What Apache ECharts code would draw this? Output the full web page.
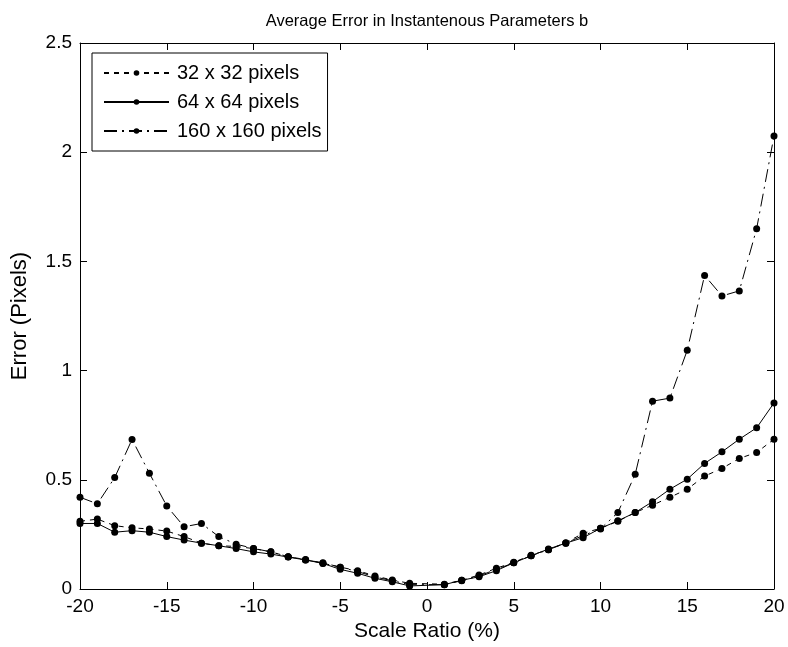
<!DOCTYPE html>
<html>
<head>
<meta charset="utf-8">
<script src="https://cdn.jsdelivr.net/npm/echarts@6/dist/echarts.min.js"></script>
<style>html,body{margin:0;padding:0;background:#fff;}#c{width:788px;height:647px;}</style>
</head>
<body>
<div id="c"></div>
<script>
const xValues = [-20,-19,-18,-17,-16,-15,-14,-13,-12,-11,-10,-9,-8,-7,-6,-5,-4,-3,-2,-1,1,2,3,4,5,6,7,8,9,10,11,12,13,14,15,16,17,18,19,20];
const err32 = [0.31,0.32,0.29,0.28,0.275,0.265,0.24,0.21,0.198,0.195,0.185,0.17,0.148,0.135,0.118,0.10,0.084,0.06,0.041,0.026,0.022,0.04,0.064,0.095,0.122,0.155,0.18,0.212,0.255,0.278,0.31,0.35,0.384,0.42,0.457,0.517,0.552,0.598,0.625,0.686];
const err64 = [0.30,0.30,0.26,0.267,0.26,0.24,0.224,0.21,0.198,0.185,0.17,0.16,0.146,0.133,0.117,0.09,0.072,0.049,0.033,0.014,0.02,0.04,0.056,0.084,0.12,0.152,0.183,0.21,0.235,0.278,0.312,0.35,0.40,0.457,0.503,0.575,0.628,0.686,0.738,0.852];
const err160 = [0.42,0.39,0.51,0.685,0.53,0.38,0.285,0.30,0.24,0.205,0.186,0.17,0.148,0.133,0.12,0.10,0.08,0.055,0.038,0.02,0.02,0.038,0.06,0.09,0.12,0.152,0.18,0.21,0.245,0.275,0.35,0.525,0.86,0.874,1.093,1.436,1.342,1.365,1.65,2.074];
const seriesNames = ['32 x 32 pixels','64 x 64 pixels','160 x 160 pixels'];
const titleText = 'Average Error in Instantenous Parameters b';
const xName = 'Scale Ratio (%)';
const yName = 'Error (Pixels)';

const FONT = 'Liberation Sans, Arial, sans-serif';
const pairs = arr => xValues.map((x,i)=>[x,arr[i]]);
const mk = (name, data, type) => ({
  name, type:'line', data: pairs(data),
  symbol:'circle', symbolSize:7, showSymbol:true,
  itemStyle:{color:'#000'},
  lineStyle:{color:'#000', width:1, type:type},
  emphasis:{disabled:true}, animation:false
});
const axisCommon = () => ({
  axisLine:{onZero:false,lineStyle:{color:'#000',width:1}},
  axisTick:{inside:true,length:7,lineStyle:{color:'#000'}},
  splitLine:{show:false},
});
const chart = echarts.init(document.getElementById('c'));
chart.setOption({
  backgroundColor:'#fff',
  animation:false,
  title:{text:titleText,left:422,textAlign:'center',top:8,
    textStyle:{fontFamily:FONT,fontSize:16.5,fontWeight:'normal',color:'#000'}},
  grid:{left:80,right:14,top:43,bottom:58},
  legend:{
    orient:'vertical', left:92, top:53,
    padding:[10,6,10,11], itemGap:9,
    borderColor:'#000', borderWidth:1, backgroundColor:'#fff',
    itemWidth:65, itemHeight:7,
    textStyle:{fontFamily:FONT,fontSize:20,color:'#000',padding:[0,0,0,3]},
    data:seriesNames
  },
  xAxis:[
    Object.assign({type:'value',min:-20,max:20,interval:5,
      name:xName,nameLocation:'middle',nameGap:30,
      nameTextStyle:{fontFamily:FONT,fontSize:21,color:'#000'},
      axisLabel:{fontFamily:FONT,fontSize:19,color:'#000',margin:8}},axisCommon()),
    Object.assign({type:'value',min:-20,max:20,interval:5,position:'top',
      axisLabel:{show:false}},axisCommon())
  ],
  yAxis:[
    Object.assign({type:'value',min:0,max:2.5,interval:0.5,
      name:yName,nameLocation:'middle',nameGap:49,
      nameTextStyle:{fontFamily:FONT,fontSize:22,color:'#000'},
      axisLabel:{fontFamily:FONT,fontSize:19,color:'#000',margin:8}},axisCommon()),
    Object.assign({type:'value',min:0,max:2.5,interval:0.5,position:'right',
      axisLabel:{show:false}},axisCommon())
  ],
  series:[
    mk(seriesNames[0], err32, [5,5]),
    mk(seriesNames[1], err64, 'solid'),
    mk(seriesNames[2], err160, [13,5,2,5])
  ]
});
</script>
</body>
</html>
